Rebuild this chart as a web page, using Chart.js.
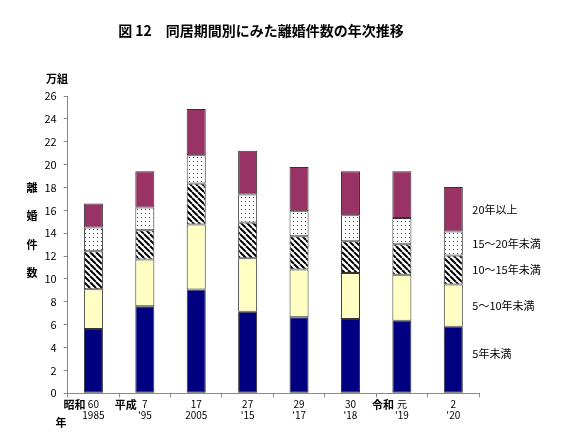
<!DOCTYPE html>
<html>
<head>
<meta charset="utf-8">
<script src="https://cdn.jsdelivr.net/npm/chart.js@4/dist/chart.umd.min.js"></script>
<style>
  html, body { margin: 0; padding: 0; background: #fff; }
  #wrap { width: 568px; height: 444px; position: relative; }
</style>
</head>
<body>
<div id="wrap"><canvas id="c" width="568" height="444"></canvas></div>
<script>
// ── データ（万組） ─────────────────────────────────────────────
const yearLabels = [['60', '1985'], ['7', "'95"], ['17', '2005'], ['27', "'15"],
                    ['29', "'17"], ['30', "'18"], ['元', "'19"], ['2', "'20"]];
const eraLabels  = { 0: '昭和', 1: '平成', 6: '令和' };

const under5   = [5.62, 7.62, 9.08, 7.13, 6.64, 6.49, 6.34, 5.82];
const y5to10   = [3.49, 4.08, 5.68, 4.68, 4.19, 4.04, 4.03, 3.70];
const y10to15  = [3.32, 2.56, 3.58, 3.12, 2.91, 2.77, 2.67, 2.53];
const y15to20  = [2.07, 1.98, 2.47, 2.45, 2.18, 2.27, 2.30, 2.10];
const over20   = [2.10, 3.17, 4.05, 3.84, 3.87, 3.84, 4.07, 3.89];

const seriesNames = ['5年未満', '5～10年未満', '10～15年未満', '15～20年未満', '20年以上'];
const yTicks = { min: 0, max: 26, step: 2 };

const FONT = "'Noto Sans CJK JP', 'Noto Sans', sans-serif";

// ── 塗りパターン ───────────────────────────────────────────────
function hatchPattern() {
  const c = document.createElement('canvas');
  c.width = 6; c.height = 6;
  const g = c.getContext('2d');
  g.fillStyle = '#fff'; g.fillRect(0, 0, 6, 6);
  g.strokeStyle = '#000'; g.lineWidth = 2;
  g.beginPath();
  for (let k = -6; k <= 6; k += 6) {
    g.moveTo(k, 0); g.lineTo(k + 6, 6);
  }
  g.stroke();
  return g.createPattern(c, 'repeat');
}

function dotPattern() {
  const c = document.createElement('canvas');
  c.width = 4; c.height = 4;
  const g = c.getContext('2d');
  g.fillStyle = '#fff'; g.fillRect(0, 0, 4, 4);
  g.fillStyle = '#444';
  g.fillRect(1, 1, 1, 1);
  return g.createPattern(c, 'repeat');
}

const fills = ['#000080', '#ffffc4', hatchPattern(), dotPattern(), '#993366'];
const values = [under5, y5to10, y10to15, y15to20, over20];

const datasets = values.map((v, i) => ({
  label: seriesNames[i],
  data: v,
  backgroundColor: fills[i],
  borderColor: '#333',
  borderWidth: 1,
  borderSkipped: false,
  categoryPercentage: 1,
  barPercentage: 0.37,
}));

// ── 追加テキスト（タイトル・単位・元号・凡例） ─────────────────
const textPlugin = {
  id: 'texts',
  afterDraw(chart) {
    const ctx = chart.ctx;
    const x = chart.scales.x;
    ctx.save();
    ctx.fillStyle = '#000';

    ctx.font = `bold 14px ${FONT}`;
    ctx.textAlign = 'center'; ctx.textBaseline = 'middle';
    ctx.fillText('図 12　同居期間別にみた離婚件数の年次推移', 261, 31);

    ctx.font = `bold 11px ${FONT}`;
    ctx.fillText('万組', 57, 79);
    ['離', '婚', '件', '数'].forEach((ch, i) => ctx.fillText(ch, 32, 188 + i * 28.3));
    ctx.fillText('年', 61, 423);

    ctx.font = `bold 11px ${FONT}`;
    ctx.textAlign = 'right';
    for (const k in eraLabels) {
      ctx.fillText(eraLabels[k], x.getPixelForValue(+k) - 8, 405);
    }

    // 凡例：最後の棒の各区分の横
    ctx.font = `11px ${FONT}`;
    ctx.textAlign = 'left';
    const last = under5.length - 1;
    const labelX = x.getPixelForValue(last) + 19;
    const nudge = [-6, 0, 0, 0, 1];
    chart.data.datasets.forEach((ds, i) => {
      const bar = chart.getDatasetMeta(i).data[last];
      const mid = (bar.y + bar.base) / 2;
      ctx.fillText(ds.label, labelX, mid + nudge[i]);
    });
    ctx.restore();
  }
};

new Chart(document.getElementById('c'), {
  type: 'bar',
  data: { labels: yearLabels, datasets },
  plugins: [textPlugin],
  options: {
    responsive: false,
    animation: false,
    devicePixelRatio: 1,
    layout: { padding: { left: 0, top: 96, right: 89, bottom: 0 } },
    plugins: { legend: { display: false }, tooltip: { enabled: false } },
    scales: {
      x: {
        stacked: true,
        afterFit: s => { s.height = 50.7; },
        border: { color: '#888', width: 1 },
        grid: { drawOnChartArea: false, drawTicks: true, tickLength: 4, color: '#888', offset: true },
        ticks: {
          color: '#000', padding: 1, maxRotation: 0, autoSkip: false,
          font: { family: FONT, size: 10, lineHeight: 1.15 },
        },
      },
      y: {
        stacked: true,
        min: yTicks.min, max: yTicks.max,
        afterFit: s => { s.width = 67.7; },
        border: { color: '#888', width: 1 },
        grid: { drawOnChartArea: false, drawTicks: true, tickLength: 4, color: '#888' },
        ticks: {
          stepSize: yTicks.step, color: '#000', padding: 7,
          font: { family: FONT, size: 11 },
        },
      },
    },
  },
});
</script>
</body>
</html>
